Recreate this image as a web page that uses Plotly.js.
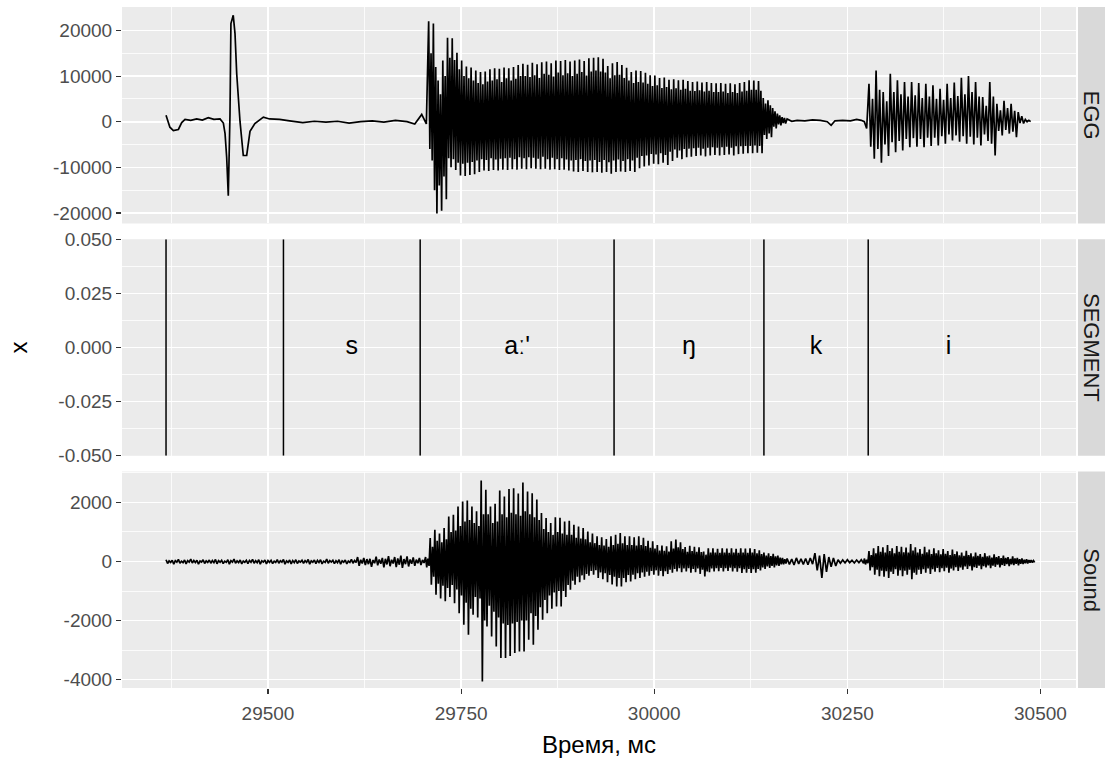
<!DOCTYPE html>
<html><head><meta charset="utf-8">
<script src="https://cdn.plot.ly/plotly-3.0.1.min.js"></script>
<style>html,body{margin:0;padding:0;background:#fff}</style>
</head><body><div id="chart" style="width:1110px;height:766px"></div>
<script>
// ---------------- data ----------------
// EGG: pre-voicing part (time ms, value)
const eggPreTime = [29368, 29373, 29377.5, 29384, 29388.3, 29392.6, 29400, 29407.7, 29415, 29422.7, 29430, 29437.9, 29442.2, 29444.4, 29446.5, 29448.6, 29450.8, 29452, 29455, 29457.3, 29459.5, 29463.8, 29468, 29472.4, 29476.7, 29483, 29494, 29502, 29515, 29528, 29545, 29560, 29575, 29590, 29605, 29620, 29635, 29650, 29665, 29680, 29690, 29699, 29705];
const eggPreValue = [1400, -1200, -1950, -1700, -200, 500, 300, 600, 350, 900, 500, 600, -300, -2600, -7800, -16200, 1600, 21500, 23300, 19300, 10500, 0, -7400, -7400, -2100, -400, 1000, 600, 500, 200, -200, 100, -100, 100, -300, 0, 200, -100, 300, 0, -500, 1600, -500];
// EGG: vowel "aː'" + "ŋ": per glottal cycle a main max/min and a secondary max/min
const eggVowelStart = 29708, eggVowelCycle = 6.1;
const eggVowelMax = [22000,21500,9000,13400,18400,18300,15100,13400,12100,11900, 11200,10900,11000,11500,11700,11600,11900,11700,12000,12400, 12700,12500,12900,12600,13000,13200,12800,13400,13300,13500, 13200,13400,13600,13300,13900,14000,14100,13800,12200,12800, 13100,12400,11800,10900,11200,11100,10700,10200,10100,9600, 9700,9200,9300,9100,9200,8900,8700,8800,8600,8700, 8500,8400,8500,8300,8400,8200,8500,8700,9100,9000, 8900,5200,4700,3000,1800,1000];
const eggVowelMin = [-8500,-20100,-19500,-17000,-10000,-10600,-11800,-11900,-11700,-11500, -11000,-10700,-10800,-10600,-10700,-10500,-10600,-10400,-10500,-10300, -10400,-10200,-10300,-10400,-10300,-10500,-10400,-10600,-10500,-10700, -10900,-11000,-10800,-11000,-11100,-11000,-11200,-11000,-11400,-11000, -10900,-11000,-10800,-11000,-10200,-9800,-9600,-9200,-9300,-9000, -9500,-8600,-7900,-8200,-7800,-7700,-7500,-7400,-7600,-7400, -7300,-7400,-7300,-7200,-7400,-7100,-7000,-6900,-6900,-6800, -6900,-3800,-3400,-1500,-800,-400];
const eggVowelMax2 = [15000,12000,6000,10000,14000,13500,11500,10000,9500,9000, 8500,8200,8800,9000,9300,8700,9500,9000,9400,10000, 10000,9800,10200,9600,10500,10300,9900,10800,10200,10600, 10000,10500,10900,10100,11000,11200,11000,10800,9500,10200, 10300,9600,9000,8500,8700,8600,8300,7800,8000,7400, 7600,7100,7300,7000,7200,6800,6700,6900,6600,6800, 6500,6500,6600,6300,6500,6300,6600,6800,7000,7000, 6800,4000,3600,2300,1400,800];
const eggVowelMin2 = [-6000,-15000,-14000,-12000,-8000,-8200,-9000,-9200,-9000,-8800, -8500,-8200,-8400,-8000,-8300,-8100,-8000,-7900,-8200,-7800, -8000,-7800,-7900,-8100,-7700,-8200,-7900,-8200,-8000,-8300, -8500,-8400,-8200,-8600,-8500,-8400,-8800,-8400,-8900,-8500, -8300,-8600,-8200,-8500,-7900,-7500,-7400,-7100,-7200,-6900, -7300,-6600,-6100,-6300,-6000,-5900,-5800,-5700,-5900,-5700, -5600,-5700,-5600,-5500,-5700,-5400,-5400,-5300,-5300,-5200, -5300,-2900,-2600,-1100,-600,-300];
// EGG: closure "k"
const eggTailTime = [30172, 30178, 30185, 30195, 30205, 30215, 30224, 30229, 30234, 30244, 30254, 30262, 30268, 30272, 30275];
const eggTailValue = [600, 100, 300, 200, 400, 300, 0, -800, 200, 300, 200, 500, 300, 0, -1500];
// EGG: vowel "i": per cycle a main max/min and a secondary max/min
const eggIStart = 30278, eggICycle = 9.2;
const eggIMax = [8300, 11200, 6500, 10500, 9100, 8700, 8700, 8500, 8300, 8000, 7200, 8300, 8600, 9600, 10000, 8700, 5400, 8700, 3900, 4600, 3900, 2100, 500];
const eggIMin = [-8100, -9000, -7500, -6700, -6300, -5600, -5500, -5600, -5300, -5200, -4800, -4100, -4400, -4800, -5000, -5200, -4200, -7400, -3000, -2600, -3400, -400, 0];
const eggIMax2 = [5000, 7000, 4500, 6500, 6000, 5500, 5800, 5200, 5500, 5000, 4800, 5200, 5600, 6000, 6500, 5500, 3500, 5500, 2500, 3000, 2400, 1200, 300];
const eggIMin2 = [-5500, -6000, -5000, -4500, -4200, -3800, -3600, -3800, -3500, -3500, -3200, -2800, -3000, -3200, -3300, -3500, -2800, -4800, -2000, -1800, -2200, -300, 0];

// Sound: per cycle a main max/min and a secondary max/min
const soundPreStart = 29368, soundPreCycle = 8;
const soundPreMax = [60,40,70,50,80,40,60,50,70,40, 60,80,50,40,70,60,50,40,60,70, 50,60,40,70,50,60,80,40,60,50, 70, 150,120,90,160,120,180,150,200,170,140,120];
const soundPreMin = [-70,-90,-60,-80,-50,-90,-70,-60,-80,-70, -90,-60,-80,-70,-60,-90,-80,-70,-60,-90, -80,-70,-60,-90,-70,-80,-60,-70,-90,-80, -60, -150,-120,-180,-130,-200,-160,-190,-220,-170,-150,-120];
const soundPreMax2 = [20,30,10,25,35,15,20,30,25,10, 30,20,15,35,25,20,30,10,25,20, 30,15,25,20,35,10,30,25,20,15, 30, 60,80,50,70,90,60,100,80,70,60,50];
const soundPreMin2 = [-30,-20,-40,-25,-35,-20,-30,-40,-25,-30, -20,-35,-30,-25,-40,-20,-30,-35,-25,-30, -40,-20,-30,-25,-35,-30,-20,-40,-25,-30, -35, -70,-90,-60,-80,-100,-70,-110,-90,-80,-60,-50];
const soundVowelStart = 29704, soundVowelCycle = 6;
const soundVowelMax = [150,790,1070,950,1130,1520,1580,1860,2030,2060, 1860,1700,2740,2430,1860,1950,2400,2200,2450,2480, 2300,2670,2370,2310,2100,1640,1470,1300,1500,1480, 1350,1380,1240,1180,1130,1010,950,850,820,760, 850,900,960,850,850,820,850,800,700,680, 560,540,510,680,740,650,490,530,500,480, 340,450,450,430,450,440,450,430,450,440, 450,420,380,300,280,260,200,120];
const soundVowelMin = [-200,-790,-1130,-1250,-1350,-1200,-1410,-1750,-2140,-2480, -1800,-1900,-4060,-2200,-2540,-2880,-3270,-3270,-3200,-3100, -3050,-3050,-2650,-2820,-2310,-1970,-1750,-1600,-1520,-1520, -1200,-960,-790,-700,-620,-480,-450,-560,-600,-700, -780,-850,-850,-700,-680,-600,-560,-520,-480,-450, -480,-500,-420,-380,-340,-360,-340,-380,-360,-420, -510,-360,-340,-330,-340,-320,-340,-350,-390,-380, -390,-380,-300,-250,-220,-200,-150,-100];
const soundVowelMax2 = [100,500,700,650,750,1000,1050,1200,1350,1400, 1300,1200,1600,1600,1300,1350,1600,1500,1650,1600, 1550,1700,1600,1500,1400,1100,1000,900,1000,950, 900,900,800,780,750,650,620,560,540,500, 560,600,620,560,560,540,560,520,460,440, 370,360,340,440,480,420,330,350,330,320, 230,300,300,290,300,290,300,290,300,290, 300,280,250,200,180,170,130,80];
const soundVowelMin2 = [-150,-520,-750,-820,-900,-800,-950,-1150,-1400,-1600, -1200,-1250,-2000,-1500,-1700,-1900,-2100,-2150,-2100,-2050, -2000,-2000,-1750,-1850,-1550,-1300,-1150,-1050,-1000,-1000, -800,-650,-520,-470,-420,-320,-300,-370,-400,-460, -520,-560,-560,-460,-450,-400,-370,-350,-320,-300, -320,-330,-280,-250,-230,-240,-230,-250,-240,-280, -340,-240,-230,-220,-230,-210,-230,-230,-260,-250, -260,-250,-200,-170,-150,-130,-100,-70];
const soundMidStart = 30172, soundMidCycle = 6;
const soundMidMax = [100,80,120,90,100,120,280,200,250,150,120,60,50,60,40,50,60];
const soundMidMin = [-100,-120,-80,-100,-110,-90,-300,-560,-350,-180,-150,-60,-50,-40,-50,-40,-60];
const soundIStart = 30272, soundICycle = 6;
const soundIMax = [100,350,450,520,480,560,450,520,500,470, 590,480,420,500,400,450,380,420,350,400, 340,300,360,280,300,250,280,200,240,180, 200,150,170,120,100,80,50];
const soundIMin = [-100,-300,-450,-500,-520,-560,-420,-480,-500,-450, -600,-450,-420,-380,-420,-350,-360,-330,-380,-300, -320,-280,-250,-300,-220,-260,-200,-230,-180,-200, -150,-160,-120,-130,-90,-70,-40];
const soundIMax2 = [60,220,280,330,300,350,280,330,310,300, 370,300,260,310,250,280,240,260,220,250, 210,190,220,170,190,160,170,130,150,110, 120,90,100,80,60,50,30];
const soundIMin2 = [-60,-190,-280,-310,-330,-350,-260,-300,-310,-280, -380,-280,-260,-240,-260,-220,-230,-210,-240,-190, -200,-170,-160,-190,-140,-160,-130,-140,-110,-120, -90,-100,-80,-80,-60,-40,-30];

// Segmentation
const segStarts = [29368, 29520, 29697, 29948, 30142, 30277];
const segEnds   = [29520, 29697, 29948, 30142, 30277, 30485];
const segLabels = ['', 's', "aː'", 'ŋ', 'k', 'i'];

// Facets and ticks
const facetNames = ['EGG', 'SEGMENT', 'Sound'];
const xTickVals = [29500, 29750, 30000, 30250, 30500];
const xTickText = ['29500', '29750', '30000', '30250', '30500'];
const xMinorVals = [29375, 29625, 29875, 30125, 30375];
const eggTickVals = [-20000, -10000, 0, 10000, 20000];
const eggTickText = ['-20000', '-10000', '0', '10000', '20000'];
const eggMinorVals = [-15000, -5000, 5000, 15000, 25000];
const segTickVals = [-0.05, -0.025, 0, 0.025, 0.05];
const segTickText = ['-0.050', '-0.025', '0.000', '0.025', '0.050'];
const segMinorVals = [-0.0375, -0.0125, 0.0125, 0.0375];
const soundTickVals = [-4000, -2000, 0, 2000];
const soundTickText = ['-4000', '-2000', '0', '2000'];
const soundMinorVals = [-3000, -1000, 1000, 3000];
const xTitle = 'Время, мс';
const yTitle = 'x';

// ---------------- build ----------------
// interleave the value lists of one stretch on its sample grid
function interleave(start, cycle, lists) {
  const t = [], v = [], n = lists.length;
  for (let k = 0; k < lists[0].length; k++) {
    for (let j = 0; j < n; j++) { t.push(start + k * cycle + j * cycle / n); v.push(lists[j][k]); }
  }
  return {t, v};
}
const eggV = interleave(eggVowelStart, eggVowelCycle, [eggVowelMax, eggVowelMin2, eggVowelMax2, eggVowelMin]);
const eggI = interleave(eggIStart, eggICycle, [eggIMax, eggIMin2, eggIMax2, eggIMin]);
const eggX = [].concat(eggPreTime, eggV.t, eggTailTime, eggI.t);
const eggY = [].concat(eggPreValue, eggV.v, eggTailValue, eggI.v);

const sp = interleave(soundPreStart, soundPreCycle, [soundPreMax, soundPreMin, soundPreMax2, soundPreMin2]);
const sv = interleave(soundVowelStart, soundVowelCycle, [soundVowelMax, soundVowelMin, soundVowelMax2, soundVowelMin2]);
const sm = interleave(soundMidStart, soundMidCycle, [soundMidMax, soundMidMin]);
const si = interleave(soundIStart, soundICycle, [soundIMax, soundIMin, soundIMax2, soundIMin2]);
const sndX = [].concat(sp.t, sv.t, sm.t, si.t);
const sndY = [].concat(sp.v, sv.v, sm.v, si.v);

const segLX = [], segLY = [];
segStarts.forEach(b => { segLX.push(b, b, null); segLY.push(-0.05, 0.05, null); });
const labX = [], labY = [], labT = [];
segLabels.forEach((l, i) => { if (l) { labX.push((segStarts[i] + segEnds[i]) / 2); labY.push(0); labT.push(l); } });

const FONT = 'Liberation Sans, Arial, sans-serif';
const traces = [
  {x: eggX, y: eggY, xaxis: 'x', yaxis: 'y', mode: 'lines', line: {color: '#000', width: 1.7, simplify: false}, hoverinfo: 'skip'},
  {x: segLX, y: segLY, xaxis: 'x', yaxis: 'y2', mode: 'lines', line: {color: '#000', width: 1.5}, hoverinfo: 'skip'},
  {x: labX, y: labY, text: labT, xaxis: 'x', yaxis: 'y2', mode: 'text', textposition: 'middle center', textfont: {family: FONT, size: 25, color: '#000'}, hoverinfo: 'skip'},
  {x: sndX, y: sndY, xaxis: 'x', yaxis: 'y3', mode: 'lines', line: {color: '#000', width: 1.7, simplify: false}, hoverinfo: 'skip'}
];

const tickFont = {family: FONT, size: 19, color: '#4D4D4D'};
function yax(domain, range, tv, tt, minor) {
  return {domain, range, tickmode: 'array', tickvals: tv, ticktext: tt, ticks: 'outside', ticklen: 5, tickwidth: 1.1, tickcolor: '#333333',
    tickfont: tickFont, showgrid: true, gridcolor: '#FFFFFF', gridwidth: 1.6, zeroline: false, showline: false, anchor: 'x',
    minor: {tickmode: 'array', tickvals: minor, showgrid: true, gridcolor: '#FFFFFF', gridwidth: 0.8, ticks: ''}, fixedrange: true};
}
const PW = 1110 - 122 - 34;
const doms = [[0.6821, 1], [0.3410, 0.6590], [0, 0.3179]];
const shapes = [], annotations = [];
doms.forEach((d, i) => {
  shapes.push({type: 'rect', xref: 'paper', yref: 'paper', x0: (1078 - 122) / PW, x1: (1105 - 122) / PW, y0: d[0], y1: d[1], fillcolor: '#D9D9D9', line: {width: 0}, layer: 'below'});
  annotations.push({xref: 'paper', yref: 'paper', x: (1091.5 - 122) / PW, y: (d[0] + d[1]) / 2, text: facetNames[i], textangle: 90, showarrow: false,
    font: {family: FONT, size: 22, color: '#1A1A1A'}, xanchor: 'center', yanchor: 'middle'});
});
annotations.push({xref: 'paper', yref: 'paper', x: 0.5, y: (688.3 - 745) / 681, text: xTitle, showarrow: false, font: {family: FONT, size: 24, color: '#000'}, xanchor: 'center', yanchor: 'middle'});
annotations.push({xref: 'paper', yref: 'paper', x: (18 - 122) / PW, y: 0.5, text: yTitle, textangle: -90, showarrow: false, font: {family: FONT, size: 24, color: '#000'}, xanchor: 'center', yanchor: 'middle'});

const layout = {
  width: 1110, height: 766, margin: {l: 122, r: 34, t: 7, b: 78}, paper_bgcolor: '#FFFFFF', plot_bgcolor: '#EBEBEB', showlegend: false,
  font: {family: FONT},
  xaxis: {range: [29311, 30546], anchor: 'y3', tickmode: 'array', tickvals: xTickVals, ticktext: xTickText, ticks: 'outside', ticklen: 5, tickwidth: 1.1, tickcolor: '#333333',
    tickfont: tickFont, showgrid: true, gridcolor: '#FFFFFF', gridwidth: 1.6, zeroline: false, showline: false, ticklabelstandoff: 3,
    minor: {tickmode: 'array', tickvals: xMinorVals, showgrid: true, gridcolor: '#FFFFFF', gridwidth: 0.8, ticks: ''}, fixedrange: true},
  yaxis: yax(doms[0], [-22300, 25130], eggTickVals, eggTickText, eggMinorVals),
  yaxis2: yax(doms[1], [-0.05, 0.05], segTickVals, segTickText, segMinorVals),
  yaxis3: yax(doms[2], [-4284, 3046], soundTickVals, soundTickText, soundMinorVals),
  shapes, annotations
};
Plotly.newPlot('chart', traces, layout, {staticPlot: true, displayModeBar: false});
</script></body></html>
